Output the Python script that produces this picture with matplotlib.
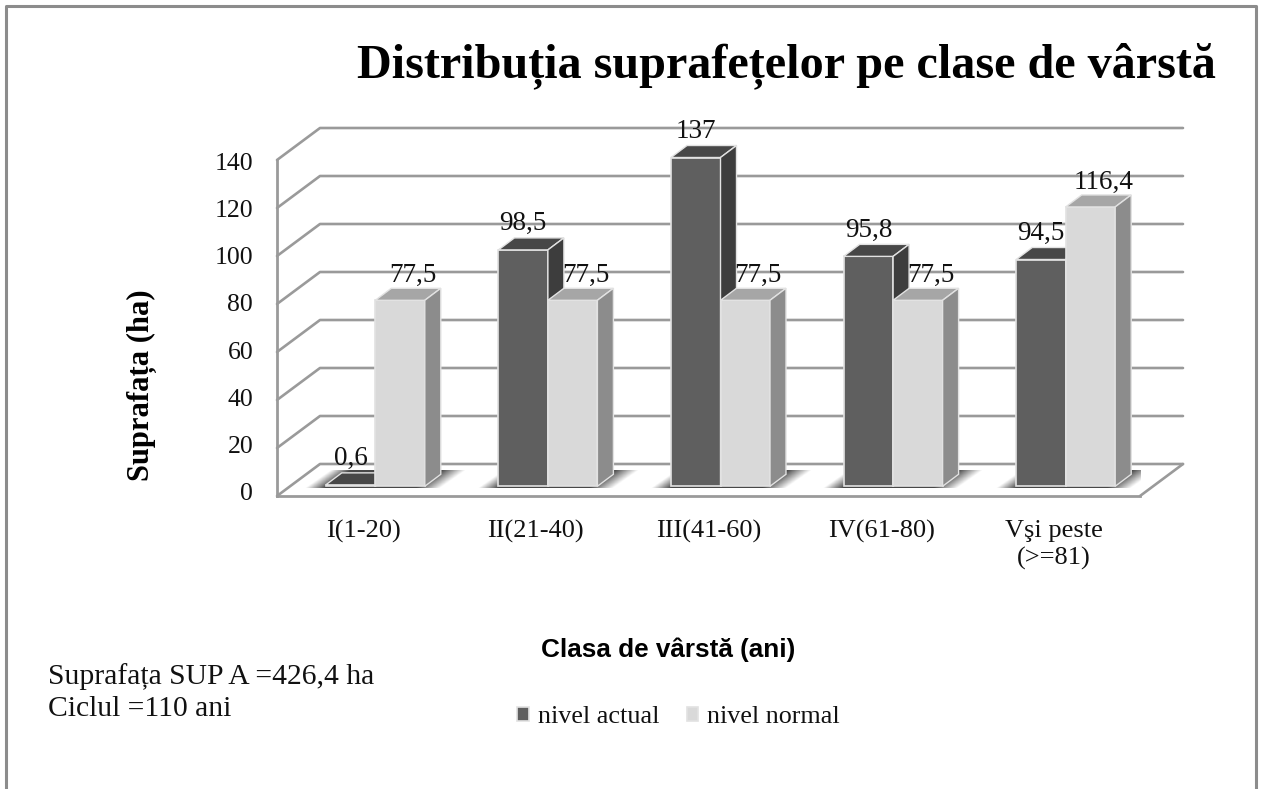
"""Distributia suprafetelor pe clase de varsta - 3D looking clustered bars on 2D axes."""
import matplotlib
matplotlib.use("Agg")
import matplotlib.pyplot as plt
import numpy as np
from matplotlib.lines import Line2D
from matplotlib.patches import Polygon

plt.rcParams["font.family"] = ["Liberation Serif", "DejaVu Sans"]

# ---------------------------------------------------------------------------
# Data
# ---------------------------------------------------------------------------
CATEGORIES = ["I(1-20)", "II(21-40)", "III(41-60)", "IV(61-80)", "Vşi peste\n(>=81)"]
NIVEL_ACTUAL = [0.6, 98.5, 137, 95.8, 94.5]
NIVEL_NORMAL = [77.5, 77.5, 77.5, 77.5, 116.4]
Y_TICKS = [0, 20, 40, 60, 80, 100, 120, 140]

# ---------------------------------------------------------------------------
# Style
# ---------------------------------------------------------------------------
W, H = 1261, 789
GRID = "#9a9a9a"
FRAME = "#8c8c8c"
ACTUAL = {"front": "#5f5f5f", "top": "#474747", "side": "#3d3d3d"}
NORMAL = {"front": "#d9d9d9", "top": "#a6a6a6", "side": "#8c8c8c"}
EDGE = "#e2e2e2"

PX_X = 863 / 5      # pixels per category
PX_Y = 336 / 140    # pixels per value unit
WALL_DX, WALL_DY = 43 / PX_X, 32 / PX_Y
PLANE_DX, PLANE_DY = 12 / PX_X, 9.7 / PX_Y
BAR_DX, BAR_DY = 16 / PX_X, 12 / PX_Y
BAR_W = 49.5 / PX_X


def box(ax, x0, value, colors, label=None):
    """Front face from ax.bar, then top and side faces as polygons."""
    x1 = x0 + BAR_W
    b = PLANE_DY
    t = value + PLANE_DY
    bars = ax.bar(x0, value, BAR_W, bottom=b, align="edge", color=colors["front"],
                  edgecolor=EDGE, linewidth=1.2, zorder=3, clip_on=False, label=label)
    top = [(x0, t), (x1, t), (x1 + BAR_DX, t + BAR_DY), (x0 + BAR_DX, t + BAR_DY)]
    side = [(x1, b), (x1 + BAR_DX, b + BAR_DY), (x1 + BAR_DX, t + BAR_DY), (x1, t)]
    for pts, col in ((top, colors["top"]), (side, colors["side"])):
        ax.add_patch(Polygon(pts, closed=True, facecolor=col, edgecolor=EDGE,
                             linewidth=1.0, zorder=3, clip_on=False))
    return bars


def floor_shadow(ax, center):
    """Soft gradient on the floor around one cluster, leaning with the floor."""
    left = center - 70 / PX_X
    right = center + 65 / PX_X
    y0, y1 = 3.3, 10.4
    lean = 25 / PX_X
    fade_l = 20 / PX_X
    fade_r = 24 / PX_X
    xs = np.linspace(left, right + lean, 200)
    ys = np.linspace(y0, y1, 30)
    gx, gy = np.meshgrid(xs, ys)
    shift = lean * (gy - y0) / (y1 - y0)
    alpha = np.minimum(np.clip((gx - left - shift) / fade_l, 0, 1),
                       np.clip((right + shift - gx) / fade_r, 0, 1)) * 0.72
    rgba = np.zeros(gx.shape + (4,))
    rgba[..., 3] = alpha
    ax.imshow(rgba, extent=(left, right + lean, y0, y1), origin="lower", aspect="auto",
              zorder=2, interpolation="bilinear")


def main():
    fig = plt.figure(figsize=(W / 100, H / 100), dpi=100, facecolor="white")

    # frame, cut by the bottom edge of the picture
    fig.add_artist(Line2D([6 / W, 6 / W, 1256 / W, 1256 / W],
                          [0, 1 - 6 / H, 1 - 6 / H, 0],
                          color=FRAME, linewidth=2.2, transform=fig.transFigure))

    ax = fig.add_axes([277 / W, 1 - 496 / H, 863 / W, 336 / H])
    ax.patch.set_alpha(0)
    for name, spine in ax.spines.items():
        spine.set_visible(name in ("left", "bottom"))
        spine.set_color(GRID)
        spine.set_linewidth(2.0)

    # walls and floor
    grid_kw = dict(color=GRID, linewidth=1.9, zorder=1, clip_on=False,
                   solid_capstyle="round")
    for v in Y_TICKS:
        ax.plot([0, WALL_DX, 5 + WALL_DX], [v, v + WALL_DY, v + WALL_DY], **grid_kw)
    ax.plot([5, 5 + WALL_DX], [0, WALL_DY], **grid_kw)

    for i in range(len(CATEGORIES)):
        floor_shadow(ax, i + 0.5 + PLANE_DX)

    # bars
    handles = []
    for i, (a, n) in enumerate(zip(NIVEL_ACTUAL, NIVEL_NORMAL)):
        x0 = i + 0.5 + PLANE_DX - BAR_W
        h1 = box(ax, x0, a, ACTUAL, "nivel actual")
        h2 = box(ax, x0 + BAR_W, n, NORMAL, "nivel normal")
        if i == 0:
            handles = [h1, h2]
        ax.annotate(f"{a:g}".replace(".", ","), (x0 + BAR_W / 2, a + PLANE_DY),
                    xytext=(0, 26), textcoords="offset pixels", ha="center", va="center",
                    fontsize=19.5, color="#111111", zorder=5, annotation_clip=False)
        ax.annotate(f"{n:g}".replace(".", ","), (x0 + 1.5 * BAR_W, n + PLANE_DY),
                    xytext=(13, 25), textcoords="offset pixels", ha="center", va="center",
                    fontsize=19.5, color="#111111", zorder=5, annotation_clip=False)

    ax.set_xlim(0, 5)
    ax.set_ylim(0, 140)
    ax.set_yticks([])
    ax.set_xticks(np.arange(len(CATEGORIES)) + 0.5)
    ax.set_xticklabels(CATEGORIES, fontsize=19, color="#111111", linespacing=1.28)
    ax.tick_params(axis="x", length=0, pad=17)

    ax.set_xlabel("Clasa de vârstă (ani)", fontsize=18.8, fontweight="bold",
                  family="Liberation Sans")
    ax.xaxis.set_label_coords(668 / W, 1 - 637 / H, transform=fig.transFigure)

    # value axis sits slightly off the wall, as in the source
    tick_ax = fig.add_axes([258 / W, 1 - 492 / H, 1 / W, 331 / H])
    tick_ax.patch.set_alpha(0)
    for spine in tick_ax.spines.values():
        spine.set_visible(False)
    tick_ax.set_ylim(Y_TICKS[0], Y_TICKS[-1])
    tick_ax.set_yticks(Y_TICKS)
    tick_ax.set_xticks([])
    tick_ax.tick_params(axis="y", length=0, pad=3.5, labelsize=18.5, labelcolor="#111111")
    tick_ax.set_ylabel("Suprafața (ha)", fontsize=22, fontweight="bold")
    tick_ax.yaxis.set_label_coords(157 / W, 1 - 385 / H, transform=fig.transFigure)

    fig.text(786 / W, 1 - 77 / H, "Distribuția suprafețelor pe clase de vârstă",
             ha="center", va="baseline", fontsize=34.7, fontweight="bold", color="black")
    fig.text(48 / W, 1 - 677 / H, "Suprafața SUP A =426,4 ha", ha="left", va="center",
             fontsize=21.3, color="#111111")
    fig.text(48 / W, 1 - 709 / H, "Ciclul =110 ani", ha="left", va="center",
             fontsize=21.3, color="#111111")

    fig.legend(handles=handles, loc="center", bbox_to_anchor=(678.5 / W, 1 - 717 / H),
               ncols=2, frameon=False, fontsize=18.8, handlelength=0.45, handleheight=0.45,
               handletextpad=0.35, columnspacing=1.05, labelcolor="#111111")

    fig.savefig("out.png", dpi=100, facecolor="white")


if __name__ == "__main__":
    main()
